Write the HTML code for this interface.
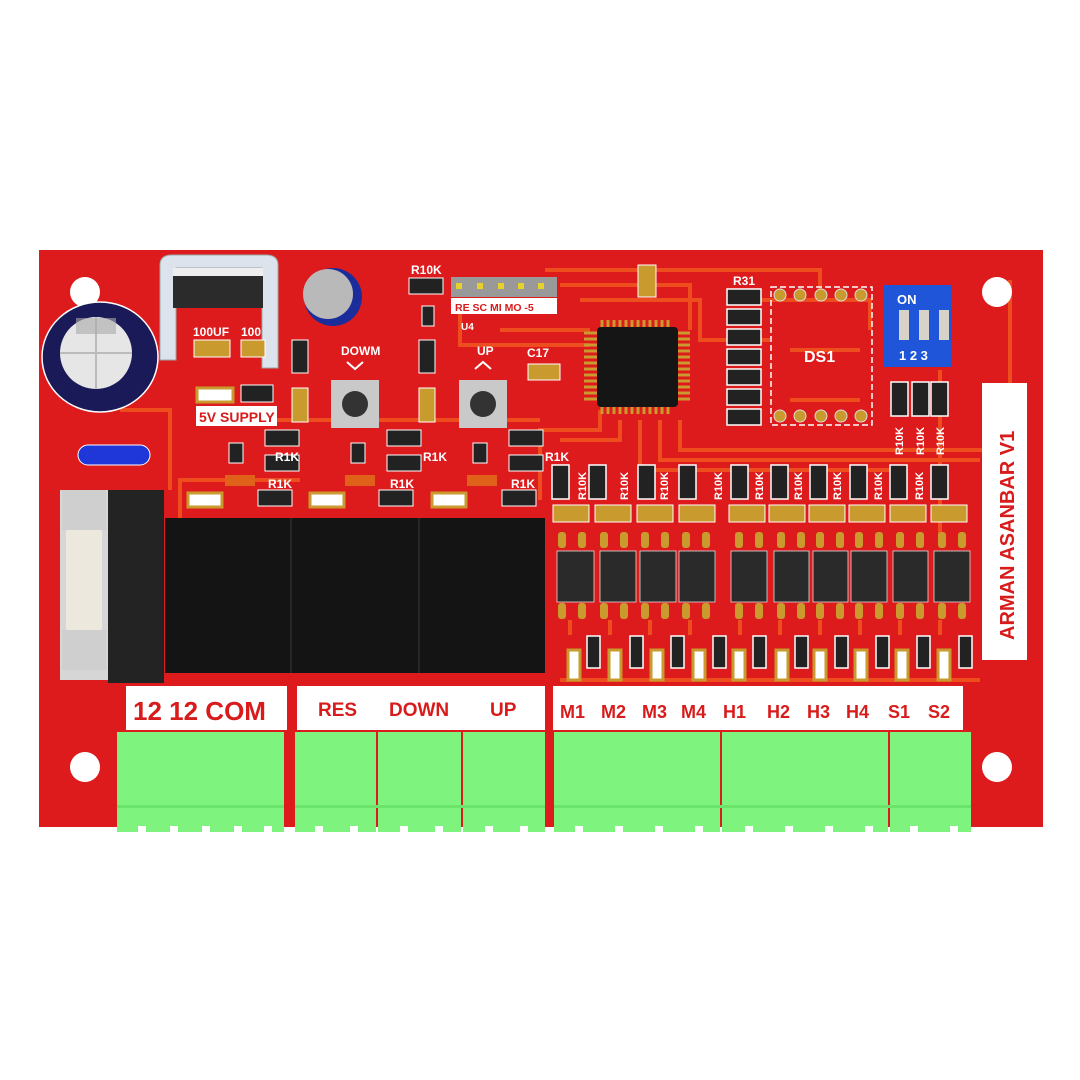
<!DOCTYPE html>
<html><head><meta charset="utf-8"><style>
html,body{margin:0;padding:0;background:#fff;width:1080px;height:1080px;overflow:hidden}
svg{display:block}
text{font-family:"Liberation Sans",sans-serif;font-weight:bold}
</style></head><body>
<svg width="1080" height="1080" viewBox="0 0 1080 1080" xmlns="http://www.w3.org/2000/svg">
<rect width="1080" height="1080" fill="#fff"/>
<!-- board -->
<rect x="39" y="250" width="1004" height="577" fill="#dd1a1c"/>
<!-- traces -->
<g stroke="#f2561e" stroke-width="4" fill="none" opacity="0.85">
<path d="M545 270 H820 V300"/><path d="M560 285 H690 V330"/><path d="M580 300 H700 V340 H770"/>
<path d="M680 420 V450 H1000 V480"/><path d="M660 420 V460 H980"/><path d="M640 420 V470 H900"/>
<path d="M620 420 V440 H560"/><path d="M600 410 V430 H540 V500"/><path d="M460 300 V345 H590"/>
<path d="M200 420 H540"/><path d="M180 520 V480 H300"/><path d="M500 330 H590"/>
<path d="M760 300 H870 V330"/><path d="M790 350 H860"/><path d="M790 400 H860"/>
<path d="M940 370 V540"/><path d="M1010 280 V400"/><path d="M120 410 H170 V490"/>
<path d="M570 620 V635"/><path d="M610 620 V635"/><path d="M650 620 V635"/><path d="M690 620 V635"/><path d="M740 620 V635"/><path d="M780 620 V635"/><path d="M820 620 V635"/><path d="M860 620 V635"/><path d="M900 620 V635"/><path d="M940 620 V635"/>
<path d="M560 680 H980"/>
</g>
<!-- holes -->
<circle cx="85" cy="292" r="15" fill="#fff"/><circle cx="997" cy="292" r="15" fill="#fff"/>
<ellipse cx="85" cy="767" rx="15" ry="15" fill="#fff"/><ellipse cx="997" cy="767" rx="15" ry="15" fill="#fff"/>
<!-- big cap -->
<ellipse cx="100" cy="357" rx="58" ry="55" fill="#1b1a58" stroke="#fff" stroke-width="1.5"/>
<circle cx="96" cy="353" r="36" fill="#e6e6e6"/>
<path d="M96 317 V389 M60 353 H132" stroke="#bbb" stroke-width="2"/>
<rect x="76" y="318" width="40" height="16" fill="#aaa" opacity="0.6"/>
<!-- regulator -->
<path d="M160 340 V265 Q160 255 172 255 H266 Q278 255 278 265 V368 H262 V268 H176 V360 H160 Z" fill="#dde3ec" stroke="#9aa" stroke-width="1"/>
<rect x="173" y="268" width="90" height="40" fill="#2b2b2b"/>
<rect x="173" y="268" width="90" height="8" fill="#eee"/>
<!-- small electrolytic -->
<circle cx="333" cy="297" r="29" fill="#1b2d9a"/>
<circle cx="328" cy="294" r="25" fill="#b9b9b9"/>
<!-- blue diode -->
<rect x="78" y="445" width="72" height="20" rx="10" fill="#1f36d8" stroke="#fff" stroke-width="1"/>
<!-- small parts top-left -->
<g fill="#c99a2e" stroke="#fff" stroke-width="1">
<rect x="194" y="340" width="36" height="17"/><rect x="241" y="340" width="24" height="17"/>
<rect x="292" y="388" width="16" height="34"/><rect x="419" y="388" width="16" height="34"/>
<rect x="528" y="364" width="32" height="16"/><rect x="638" y="265" width="18" height="32"/>
</g>
<g fill="#222" stroke="#fff" stroke-width="1">
<rect x="241" y="385" width="32" height="17"/><rect x="292" y="340" width="16" height="33"/><rect x="419" y="340" width="16" height="33"/>
<rect x="409" y="278" width="34" height="16"/>
<rect x="265" y="430" width="34" height="16"/><rect x="265" y="455" width="34" height="16"/>
<rect x="387" y="430" width="34" height="16"/><rect x="387" y="455" width="34" height="16"/>
<rect x="509" y="430" width="34" height="16"/><rect x="509" y="455" width="34" height="16"/>
<rect x="258" y="490" width="34" height="16"/><rect x="379" y="490" width="34" height="16"/><rect x="502" y="490" width="34" height="16"/>
<rect x="229" y="443" width="14" height="20"/><rect x="351" y="443" width="14" height="20"/><rect x="473" y="443" width="14" height="20"/>
<rect x="422" y="306" width="12" height="20"/>
</g>
<g fill="#fff" stroke="#c99a2e" stroke-width="3">
<rect x="197" y="388" width="36" height="14"/><rect x="188" y="493" width="34" height="14"/><rect x="310" y="493" width="34" height="14"/><rect x="432" y="493" width="34" height="14"/>
</g>
<g fill="#e0611a"><rect x="225" y="475" width="30" height="11"/><rect x="345" y="475" width="30" height="11"/><rect x="467" y="475" width="30" height="11"/></g>
<!-- buttons -->
<rect x="331" y="380" width="48" height="48" fill="#c9c9c9"/><circle cx="355" cy="404" r="13" fill="#333"/>
<rect x="459" y="380" width="48" height="48" fill="#c9c9c9"/><circle cx="483" cy="404" r="13" fill="#333"/>
<g fill="#fff" font-size="12">
<text x="193" y="336" font-size="12">100UF</text><text x="241" y="336">100</text>
<text x="411" y="274">R10K</text><text x="341" y="355">DOWM</text><text x="477" y="355">UP</text>
<text x="527" y="357">C17</text><text x="461" y="330" font-size="10">U4</text>
<text x="275" y="461">R1K</text><text x="423" y="461">R1K</text><text x="545" y="461">R1K</text>
<text x="268" y="488">R1K</text><text x="390" y="488">R1K</text><text x="511" y="488">R1K</text>
<text x="733" y="285">R31</text>
<text x="804" y="362" font-size="16" font-weight="normal">DS1</text>
</g>
<path d="M347 362 L355 369 L363 362 M475 369 L483 362 L491 369" stroke="#fff" stroke-width="2" fill="none"/>
<rect x="196" y="406" width="81" height="20" fill="#fff"/>
<text x="199" y="422" fill="#d81b1b" font-size="14">5V SUPPLY</text>
<!-- header -->
<rect x="451" y="277" width="106" height="20" fill="#999"/>
<g fill="#e6d22a"><rect x="456" y="283" width="6" height="6"/><rect x="477" y="283" width="6" height="6"/><rect x="498" y="283" width="6" height="6"/><rect x="518" y="283" width="6" height="6"/><rect x="538" y="283" width="6" height="6"/></g>
<rect x="451" y="298" width="106" height="16" fill="#fff"/>
<text x="455" y="311" fill="#d81b1b" font-size="10.5">RE  SC  MI  MO  -5</text>
<!-- MCU -->
<g stroke="#c99a2e" stroke-width="3">
<path d="M602 320 V330 M608 320 V330 M614 320 V330 M620 320 V330 M626 320 V330 M632 320 V330 M638 320 V330 M644 320 V330 M650 320 V330 M656 320 V330 M662 320 V330 M668 320 V330"/>
<path d="M602 404 V414 M608 404 V414 M614 404 V414 M620 404 V414 M626 404 V414 M632 404 V414 M638 404 V414 M644 404 V414 M650 404 V414 M656 404 V414 M662 404 V414 M668 404 V414"/>
<path d="M584 333 H598 M584 339 H598 M584 345 H598 M584 351 H598 M584 357 H598 M584 363 H598 M584 369 H598 M584 375 H598 M584 381 H598 M584 387 H598 M584 393 H598 M584 399 H598"/>
<path d="M676 333 H690 M676 339 H690 M676 345 H690 M676 351 H690 M676 357 H690 M676 363 H690 M676 369 H690 M676 375 H690 M676 381 H690 M676 387 H690 M676 393 H690 M676 399 H690"/>
</g>
<rect x="597" y="327" width="81" height="80" rx="4" fill="#151515"/>
<!-- R31 stack -->
<g fill="#222" stroke="#fff" stroke-width="1.5">
<rect x="727" y="289" width="34" height="16"/><rect x="727" y="309" width="34" height="16"/><rect x="727" y="329" width="34" height="16"/><rect x="727" y="349" width="34" height="16"/><rect x="727" y="369" width="34" height="16"/><rect x="727" y="389" width="34" height="16"/><rect x="727" y="409" width="34" height="16"/>
</g>
<!-- DS1 -->
<rect x="771" y="287" width="101" height="138" fill="none" stroke="#fff" stroke-width="1.5" stroke-dasharray="6 3"/>
<g fill="#c99a2e" stroke="#ddd" stroke-width="1"><circle cx="780" cy="295" r="6"/><circle cx="800" cy="295" r="6"/><circle cx="821" cy="295" r="6"/><circle cx="841" cy="295" r="6"/><circle cx="861" cy="295" r="6"/><circle cx="780" cy="416" r="6"/><circle cx="800" cy="416" r="6"/><circle cx="821" cy="416" r="6"/><circle cx="841" cy="416" r="6"/><circle cx="861" cy="416" r="6"/></g>
<!-- DIP -->
<rect x="884" y="285" width="68" height="82" fill="#1f55d8"/>
<g fill="#d8d3c8"><rect x="899" y="310" width="10" height="30"/><rect x="919" y="310" width="10" height="30"/><rect x="939" y="310" width="10" height="30"/></g>
<text x="897" y="304" fill="#fff" font-size="13" font-weight="normal">ON</text>
<text x="899" y="360" fill="#fff" font-size="13" font-weight="normal">1  2  3</text>
<g fill="#222" stroke="#fff" stroke-width="1.5"><rect x="891" y="382" width="17" height="34"/><rect x="912" y="382" width="17" height="34"/><rect x="931" y="382" width="17" height="34"/></g>
<g fill="#fff" font-size="11"><text transform="translate(903,455) rotate(-90)">R10K</text><text transform="translate(924,455) rotate(-90)">R10K</text><text transform="translate(944,455) rotate(-90)">R10K</text></g>
<!-- ARMAN box -->
<rect x="982" y="383" width="45" height="277" fill="#fff"/>
<text transform="translate(1014,640) rotate(-90)" fill="#d81b1b" font-size="20">ARMAN ASANBAR   V1</text>
<!-- resistor row above optos -->
<g fill="#222" stroke="#fff" stroke-width="1.5">
<rect x="552" y="465" width="17" height="34"/><rect x="589" y="465" width="17" height="34"/><rect x="638" y="465" width="17" height="34"/><rect x="679" y="465" width="17" height="34"/><rect x="731" y="465" width="17" height="34"/><rect x="771" y="465" width="17" height="34"/><rect x="810" y="465" width="17" height="34"/><rect x="850" y="465" width="17" height="34"/><rect x="890" y="465" width="17" height="34"/><rect x="931" y="465" width="17" height="34"/>
</g>
<g fill="#c99a2e" stroke="#fff" stroke-width="1">
<rect x="553" y="505" width="36" height="17"/><rect x="595" y="505" width="36" height="17"/><rect x="637" y="505" width="36" height="17"/><rect x="679" y="505" width="36" height="17"/><rect x="729" y="505" width="36" height="17"/><rect x="769" y="505" width="36" height="17"/><rect x="809" y="505" width="36" height="17"/><rect x="849" y="505" width="36" height="17"/><rect x="890" y="505" width="36" height="17"/><rect x="931" y="505" width="36" height="17"/>
</g>
<g fill="#fff" font-size="11">
<text transform="translate(586,500) rotate(-90)">R10K</text><text transform="translate(628,500) rotate(-90)">R10K</text><text transform="translate(668,500) rotate(-90)">R10K</text><text transform="translate(722,500) rotate(-90)">R10K</text><text transform="translate(763,500) rotate(-90)">R10K</text><text transform="translate(802,500) rotate(-90)">R10K</text><text transform="translate(841,500) rotate(-90)">R10K</text><text transform="translate(882,500) rotate(-90)">R10K</text><text transform="translate(923,500) rotate(-90)">R10K</text>
</g>
<!-- optos -->
<g fill="#c99a2e">
<rect x="558" y="532" width="8" height="16" rx="3"/><rect x="578" y="532" width="8" height="16" rx="3"/><rect x="600" y="532" width="8" height="16" rx="3"/><rect x="620" y="532" width="8" height="16" rx="3"/><rect x="641" y="532" width="8" height="16" rx="3"/><rect x="661" y="532" width="8" height="16" rx="3"/><rect x="682" y="532" width="8" height="16" rx="3"/><rect x="702" y="532" width="8" height="16" rx="3"/><rect x="735" y="532" width="8" height="16" rx="3"/><rect x="755" y="532" width="8" height="16" rx="3"/><rect x="777" y="532" width="8" height="16" rx="3"/><rect x="797" y="532" width="8" height="16" rx="3"/><rect x="816" y="532" width="8" height="16" rx="3"/><rect x="836" y="532" width="8" height="16" rx="3"/><rect x="855" y="532" width="8" height="16" rx="3"/><rect x="875" y="532" width="8" height="16" rx="3"/><rect x="896" y="532" width="8" height="16" rx="3"/><rect x="916" y="532" width="8" height="16" rx="3"/><rect x="938" y="532" width="8" height="16" rx="3"/><rect x="958" y="532" width="8" height="16" rx="3"/>
<rect x="558" y="603" width="8" height="16" rx="3"/><rect x="578" y="603" width="8" height="16" rx="3"/><rect x="600" y="603" width="8" height="16" rx="3"/><rect x="620" y="603" width="8" height="16" rx="3"/><rect x="641" y="603" width="8" height="16" rx="3"/><rect x="661" y="603" width="8" height="16" rx="3"/><rect x="682" y="603" width="8" height="16" rx="3"/><rect x="702" y="603" width="8" height="16" rx="3"/><rect x="735" y="603" width="8" height="16" rx="3"/><rect x="755" y="603" width="8" height="16" rx="3"/><rect x="777" y="603" width="8" height="16" rx="3"/><rect x="797" y="603" width="8" height="16" rx="3"/><rect x="816" y="603" width="8" height="16" rx="3"/><rect x="836" y="603" width="8" height="16" rx="3"/><rect x="855" y="603" width="8" height="16" rx="3"/><rect x="875" y="603" width="8" height="16" rx="3"/><rect x="896" y="603" width="8" height="16" rx="3"/><rect x="916" y="603" width="8" height="16" rx="3"/><rect x="938" y="603" width="8" height="16" rx="3"/><rect x="958" y="603" width="8" height="16" rx="3"/>
</g>
<g fill="#2a2a2a" stroke="#ddd" stroke-width="0.8">
<rect x="557" y="551" width="37" height="51"/><rect x="600" y="551" width="36" height="51"/><rect x="640" y="551" width="36" height="51"/><rect x="679" y="551" width="36" height="51"/><rect x="731" y="551" width="36" height="51"/><rect x="774" y="551" width="35" height="51"/><rect x="813" y="551" width="35" height="51"/><rect x="851" y="551" width="36" height="51"/><rect x="893" y="551" width="35" height="51"/><rect x="934" y="551" width="36" height="51"/>
</g>
<!-- bottom small parts -->
<g fill="#fff" stroke="#c99a2e" stroke-width="3">
<rect x="568" y="650" width="12" height="30"/><rect x="609" y="650" width="12" height="30"/><rect x="651" y="650" width="12" height="30"/><rect x="693" y="650" width="12" height="30"/><rect x="733" y="650" width="12" height="30"/><rect x="776" y="650" width="12" height="30"/><rect x="814" y="650" width="12" height="30"/><rect x="855" y="650" width="12" height="30"/><rect x="896" y="650" width="12" height="30"/><rect x="938" y="650" width="12" height="30"/>
</g>
<g fill="#222" stroke="#fff" stroke-width="1.5">
<rect x="587" y="636" width="13" height="32"/><rect x="630" y="636" width="13" height="32"/><rect x="671" y="636" width="13" height="32"/><rect x="713" y="636" width="13" height="32"/><rect x="753" y="636" width="13" height="32"/><rect x="795" y="636" width="13" height="32"/><rect x="835" y="636" width="13" height="32"/><rect x="876" y="636" width="13" height="32"/><rect x="917" y="636" width="13" height="32"/><rect x="959" y="636" width="13" height="32"/>
</g>
<!-- fuse holder -->
<rect x="60" y="490" width="50" height="190" fill="#d6d6d6"/>
<rect x="66" y="500" width="36" height="170" fill="#ece8de"/>
<rect x="62" y="490" width="44" height="40" fill="#cfcfcf"/><rect x="62" y="630" width="44" height="40" fill="#cfcfcf"/>
<rect x="108" y="490" width="56" height="193" fill="#232323"/>
<!-- relays -->
<rect x="165" y="518" width="380" height="155" fill="#141414"/>
<path d="M291 518 V673 M419 518 V673" stroke="#262626" stroke-width="2"/>
<!-- labels -->
<rect x="126" y="686" width="161" height="44" fill="#fff"/>
<rect x="297" y="686" width="248" height="44" fill="#fff"/>
<rect x="553" y="686" width="410" height="44" fill="#fff"/>
<g fill="#d81b1b">
<text x="133" y="720" font-size="26">12 12 COM</text>
<text x="318" y="716" font-size="19">RES</text><text x="389" y="716" font-size="19">DOWN</text><text x="490" y="716" font-size="19">UP</text>
<text x="560" y="718" font-size="18">M1</text><text x="601" y="718" font-size="18">M2</text><text x="642" y="718" font-size="18">M3</text><text x="681" y="718" font-size="18">M4</text><text x="723" y="718" font-size="18">H1</text><text x="767" y="718" font-size="18">H2</text><text x="807" y="718" font-size="18">H3</text><text x="846" y="718" font-size="18">H4</text><text x="888" y="718" font-size="18">S1</text><text x="928" y="718" font-size="18">S2</text>
</g>
<!-- terminal blocks -->
<g fill="#7ef47e">
<rect x="117" y="732" width="167" height="100"/>
<rect x="295" y="732" width="81" height="100"/><rect x="378" y="732" width="83" height="100"/><rect x="463" y="732" width="82" height="100"/>
<rect x="554" y="732" width="166" height="100"/><rect x="722" y="732" width="166" height="100"/><rect x="890" y="732" width="81" height="100"/>
</g>
<g fill="#6be46b"><rect x="117" y="805" width="167" height="3"/><rect x="295" y="805" width="250" height="3"/><rect x="554" y="805" width="417" height="3"/></g>
<g fill="#fff">
<rect x="138" y="826" width="8" height="6"/><rect x="170" y="826" width="8" height="6"/><rect x="202" y="826" width="8" height="6"/><rect x="234" y="826" width="8" height="6"/><rect x="264" y="826" width="8" height="6"/>
<rect x="315" y="826" width="8" height="6"/><rect x="350" y="826" width="8" height="6"/><rect x="400" y="826" width="8" height="6"/><rect x="435" y="826" width="8" height="6"/><rect x="485" y="826" width="8" height="6"/><rect x="520" y="826" width="8" height="6"/>
<rect x="575" y="826" width="8" height="6"/><rect x="615" y="826" width="8" height="6"/><rect x="655" y="826" width="8" height="6"/><rect x="695" y="826" width="8" height="6"/><rect x="745" y="826" width="8" height="6"/><rect x="785" y="826" width="8" height="6"/><rect x="825" y="826" width="8" height="6"/><rect x="865" y="826" width="8" height="6"/><rect x="910" y="826" width="8" height="6"/><rect x="950" y="826" width="8" height="6"/>
</g>
</svg>
</body></html>
